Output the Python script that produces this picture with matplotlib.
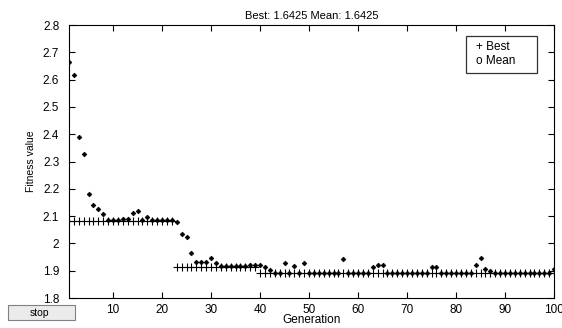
import matplotlib
matplotlib.use("Agg")
import matplotlib.pyplot as plt
from matplotlib.patches import Rectangle
from matplotlib.ticker import FormatStrFormatter

plt.rcParams['font.family'] = ['Liberation Sans', 'DejaVu Sans']

generations = list(range(1, 101))

best_fitness = [
    2.083, 2.083, 2.083, 2.083, 2.083, 2.083, 2.083, 2.083, 2.083, 2.083,
    2.083, 2.083, 2.083, 2.083, 2.083, 2.083, 2.083, 2.083, 2.083, 2.083,
    2.083, 2.083, 1.915, 1.915, 1.915, 1.915, 1.915, 1.915, 1.915, 1.915,
    1.915, 1.915, 1.915, 1.915, 1.915, 1.915, 1.915, 1.915, 1.915, 1.890,
    1.890, 1.890, 1.890, 1.890, 1.890, 1.890, 1.890, 1.890, 1.890, 1.890,
    1.890, 1.890, 1.890, 1.890, 1.890, 1.890, 1.890, 1.890, 1.890, 1.890,
    1.890, 1.890, 1.890, 1.890, 1.890, 1.890, 1.890, 1.890, 1.890, 1.890,
    1.890, 1.890, 1.890, 1.890, 1.890, 1.890, 1.890, 1.890, 1.890, 1.890,
    1.890, 1.890, 1.890, 1.890, 1.890, 1.890, 1.890, 1.890, 1.890, 1.890,
    1.890, 1.890, 1.890, 1.890, 1.890, 1.890, 1.890, 1.890, 1.890, 1.890,
]

mean_fitness = [
    2.666, 2.617, 2.390, 2.326, 2.180, 2.140, 2.127, 2.108, 2.085, 2.085,
    2.086, 2.088, 2.089, 2.110, 2.117, 2.085, 2.097, 2.085, 2.085, 2.085,
    2.085, 2.085, 2.077, 2.035, 2.023, 1.966, 1.933, 1.932, 1.932, 1.945,
    1.930, 1.919, 1.918, 1.918, 1.918, 1.918, 1.918, 1.921, 1.920, 1.920,
    1.914, 1.902, 1.892, 1.892, 1.929, 1.892, 1.916, 1.892, 1.927, 1.892,
    1.892, 1.892, 1.892, 1.892, 1.892, 1.892, 1.942, 1.892, 1.892, 1.892,
    1.892, 1.892, 1.914, 1.922, 1.922, 1.892, 1.892, 1.892, 1.892, 1.892,
    1.892, 1.892, 1.892, 1.892, 1.912, 1.912, 1.892, 1.892, 1.892, 1.892,
    1.892, 1.892, 1.892, 1.922, 1.948, 1.907, 1.899, 1.892, 1.892, 1.892,
    1.892, 1.892, 1.892, 1.892, 1.892, 1.892, 1.892, 1.892, 1.892, 1.905,
]

x_ticks = [10, 20, 30, 40, 50, 60, 70, 80, 90, 100]
y_ticks = [1.8, 1.9, 2.0, 2.1, 2.2, 2.3, 2.4, 2.5, 2.6, 2.7, 2.8]

title_text = "Best: 1.6425 Mean: 1.6425"
legend_lines = ["+ Best", "o Mean"]

fig = plt.figure(figsize=(5.62, 3.28), dpi=100)
fig.patch.set_facecolor('white')
ax = fig.add_axes([69/562, 1 - 298/328, (554 - 69)/562, (298 - 25)/328])

ax.plot(generations, best_fitness, linestyle='none', marker='+', color='black',
        markersize=6, markeredgewidth=0.8)
ax.plot(generations, mean_fitness, linestyle='none', marker='D', color='black',
        markersize=2.4, markeredgewidth=0.5)

ax.set_xlim(1, 100)
ax.set_ylim(1.8, 2.8)
ax.set_xticks(x_ticks)
ax.set_yticks(y_ticks)
ax.yaxis.set_major_formatter(FormatStrFormatter('%g'))
ax.tick_params(direction='in', top=True, right=True, length=4, width=0.8,
               labelsize=8.5, pad=4)
ax.tick_params(axis='y', pad=7)
for s in ax.spines.values():
    s.set_linewidth(0.8)

ax.set_title(title_text, fontsize=8, pad=4)
ax.set_xlabel("Generation", fontsize=8.5, labelpad=-1)
ax.set_ylabel("Fitness value", fontsize=7.5, labelpad=5)

def fx(px):
    return px / 562

def fy(py):
    return 1 - py / 328

# legend box (text-only, as in the reference)
legend_box = Rectangle((fx(466), fy(73)), fx(537) - fx(466), fy(36) - fy(73),
                       transform=fig.transFigure, facecolor='white',
                       edgecolor='#333333', linewidth=0.9, zorder=5)
fig.add_artist(legend_box)
fig.text(fx(476), fy(47), legend_lines[0], fontsize=8.5, ha='left', va='center', zorder=6)
fig.text(fx(476), fy(61), legend_lines[1], fontsize=8.5, ha='left', va='center', zorder=6)

# stop button
btn = Rectangle((fx(8), fy(320)), fx(75) - fx(8), fy(305) - fy(320),
                transform=fig.transFigure, facecolor='#ebebeb',
                edgecolor='#808080', linewidth=0.8)
fig.add_artist(btn)
fig.text(fx(39), fy(312.5), "stop", fontsize=7.5, ha='center', va='center')

fig.savefig("out.png", dpi=100)
